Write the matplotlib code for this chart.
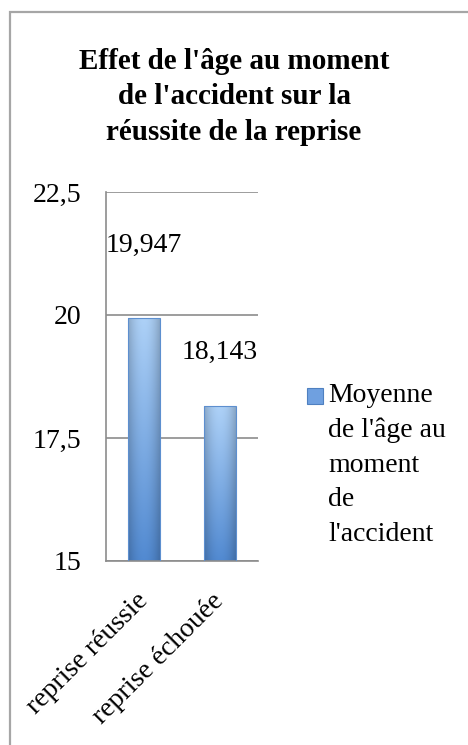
import matplotlib
matplotlib.use("Agg")
import matplotlib.pyplot as plt
import numpy as np
from matplotlib.patches import Rectangle
from matplotlib.ticker import FuncFormatter

categories = ["reprise réussie", "reprise échouée"]
values = [19.947, 18.143]
value_labels = ["19,947", "18,143"]
series_name = "Moyenne\nde l'âge au\nmoment\nde\nl'accident"
title = "Effet de l'âge au moment\nde l'accident sur la\nréussite de la reprise"
yticks = [15, 17.5, 20, 22.5]

serif = ["Liberation Serif"]
label_offsets_pt = [52, 39]

fig = plt.figure(figsize=(4.68, 7.45), dpi=100)
fig.patch.set_facecolor("white")
W, H = 468, 745

# outer chart border (cut off at right/bottom)
fig.patches.append(Rectangle((10/W, -0.2), 1.2, 0.2 + (H-12)/H, transform=fig.transFigure,
                             fill=False, edgecolor="#a6a6a6", lw=1.6, zorder=0))

ax = fig.add_axes([106/W, 1-561/H, 152/W, (561-192)/H])
x = np.arange(len(categories))
bars = ax.bar(x, values, width=0.42, color="#7aaae6", zorder=3, bottom=0)
ax.set_xlim(-0.5, 1.5)
ax.set_ylim(15, 22.5)
ax.set_yticks(yticks)
ax.yaxis.set_major_formatter(FuncFormatter(lambda v, p: (f"{v:g}").replace(".", ",")))
ax.grid(axis="y", color="#8c8c8c", lw=1.2, zorder=1)
for s in ["top", "right"]:
    ax.spines[s].set_visible(False)
for s in ["left", "bottom"]:
    ax.spines[s].set_color("#8c8c8c")
    ax.spines[s].set_linewidth(1.2)
ax.tick_params(axis="y", length=0, pad=18, labelsize=20)
ax.tick_params(axis="x", length=0, pad=26, labelsize=20)
for lab in ax.get_yticklabels():
    lab.set_family(serif)
ax.set_xticks(x)
ax.set_xticklabels(categories, rotation=45, ha="right", va="center", rotation_mode="anchor", family=serif)

# gradient fill clipped to each bar
ny, nx = 100, 40
yy = np.linspace(0, 1, ny)[:, None]
xx = np.linspace(-1, 1, nx)[None, :]
top = np.array([0.68, 0.82, 0.97])
bot = np.array([0.32, 0.54, 0.82])
vert = top[None, None, :] * (1 - yy[..., None]) + bot[None, None, :] * yy[..., None]
edge = (1 - 0.2 * np.abs(xx) ** 2)[..., None]
img = np.clip(vert * edge, 0, 1)
for b in bars:
    b.set_facecolor("none")
    b.set_edgecolor("#5d8fcf")
    b.set_linewidth(0.8)
    x0, y0 = b.get_x(), 15
    x1, y1 = b.get_x() + b.get_width(), b.get_height()
    im = ax.imshow(img, extent=[x0, x1, y0, y1], aspect="auto", zorder=2, origin="upper")
    im.set_clip_path(b)
ax.set_xlim(-0.5, 1.5)
ax.set_ylim(15, 22.5)

for xi, v, lab, off in zip(x, values, value_labels, label_offsets_pt):
    ax.annotate(lab, (xi, v), xytext=(0, off), textcoords="offset points", ha="center", va="center",
                fontsize=20, family=serif, zorder=5)

# legend (marker aligned with first line of the wrapped label)
fig.patches.append(Rectangle((307/W, 1-404/H), 16/W, 16/H, transform=fig.transFigure,
                             facecolor="#6fa0e0", edgecolor="#4f80c0", lw=0.8))
fig.text(328/W, 1-383/H, series_name, ha="left", va="top", fontsize=20, family=serif,
         linespacing=1.5)

fig.text(0.5, 1-97/H, title, ha="center", va="center", fontsize=21, fontweight="bold",
         family=serif, linespacing=1.42)

fig.savefig("out.png", dpi=100)
